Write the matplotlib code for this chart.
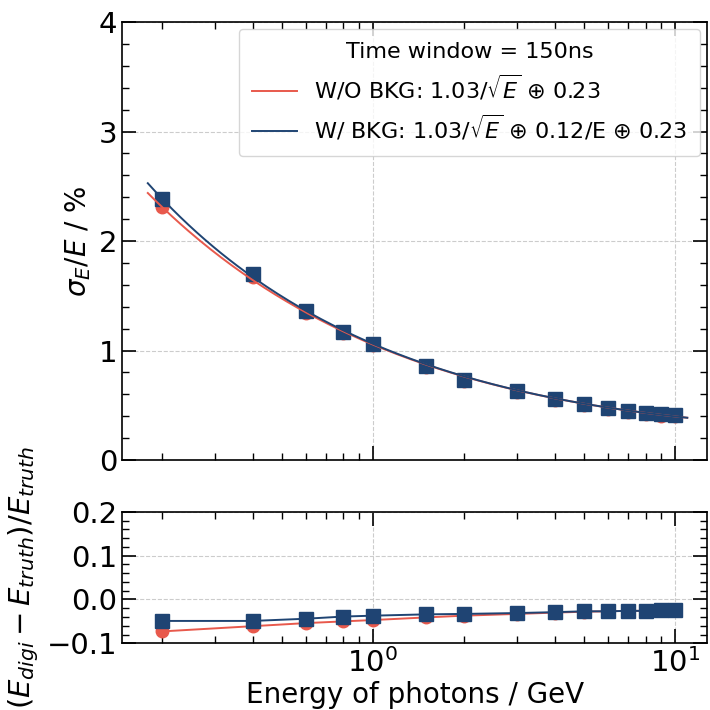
import numpy as np
import matplotlib
matplotlib.use("Agg")
import matplotlib.pyplot as plt
from matplotlib.ticker import MultipleLocator, LogLocator, NullFormatter

# Data
energy = [0.2, 0.4, 0.6, 0.8, 1.0, 1.5, 2, 3, 4, 5, 6, 7, 8, 9, 10]
res_nobkg = [2.31, 1.67, 1.34, 1.16, 1.05, 0.85, 0.72, 0.62, 0.55, 0.50, 0.47, 0.44, 0.42, 0.40, 0.40]
res_bkg = [2.38, 1.70, 1.36, 1.17, 1.06, 0.86, 0.73, 0.63, 0.56, 0.51, 0.48, 0.45, 0.43, 0.42, 0.41]
lin_nobkg = [-0.073, -0.061, -0.054, -0.050, -0.047, -0.041, -0.037, -0.033, -0.030, -0.028, -0.027, -0.026, -0.026, -0.025, -0.025]
lin_bkg = [-0.049, -0.049, -0.044, -0.039, -0.037, -0.034, -0.033, -0.031, -0.029, -0.027, -0.027, -0.026, -0.026, -0.025, -0.025]

# Fit parameters (from legend)
a_stoch = 1.03
b_noise = 0.12
c_const = 0.23
fit_range = (0.18, 11.0)

red = "#e8594c"
blue = "#1f4473"

fig = plt.figure(figsize=(7.1, 7.1), dpi=100)
ax1 = fig.add_axes([0.172, 0.352, 0.824, 0.617])
ax2 = fig.add_axes([0.172, 0.094, 0.824, 0.185])

xf = np.logspace(np.log10(fit_range[0]), np.log10(fit_range[1]), 200)
f_nobkg = np.sqrt((a_stoch / np.sqrt(xf))**2 + c_const**2)
f_bkg = np.sqrt((a_stoch / np.sqrt(xf))**2 + (b_noise / xf)**2 + c_const**2)

ax1.plot(energy, res_nobkg, 'o', color=red, ms=9, zorder=3)
ax1.plot(energy, res_bkg, 's', color=blue, ms=10, zorder=4)
ax1.plot(xf, f_nobkg, '-', color=red, lw=1.4, zorder=5,
         label=r"W/O BKG: 1.03/$\sqrt{E}$ $\oplus$ 0.23")
ax1.plot(xf, f_bkg, '-', color=blue, lw=1.4, zorder=5,
         label=r"W/ BKG: 1.03/$\sqrt{E}$ $\oplus$ 0.12/E $\oplus$ 0.23")

ax2.plot(energy, lin_nobkg, 'o-', color=red, ms=9, lw=1.4, zorder=3)
ax2.plot(energy, lin_bkg, 's-', color=blue, ms=10, lw=1.4, zorder=4)

for ax in (ax1, ax2):
    ax.set_xscale('log')
    ax.set_xlim(0.148, 12.8)
    ax.xaxis.set_major_locator(LogLocator(base=10, numticks=10))
    ax.xaxis.set_minor_locator(LogLocator(base=10, subs=np.arange(2, 10), numticks=20))
    ax.xaxis.set_minor_formatter(NullFormatter())
    ax.tick_params(which='both', direction='in', top=True, right=True, labelsize=21)
    ax.tick_params(which='major', length=10, width=1.2)
    ax.tick_params(which='minor', length=5, width=1.0)
    ax.grid(True, which='major', linestyle='--', color='#cccccc', lw=0.8)
    for s in ax.spines.values():
        s.set_linewidth(1.2)

ax1.set_ylim(0, 4)
ax1.yaxis.set_major_locator(MultipleLocator(1))
ax1.yaxis.set_minor_locator(MultipleLocator(0.2))
ax1.tick_params(axis='x', labelbottom=False)
ax1.set_ylabel(r"$\sigma_E/E$ / %", fontsize=20)

ax2.set_ylim(-0.1, 0.2)
ax2.yaxis.set_major_locator(MultipleLocator(0.1))
ax2.yaxis.set_minor_locator(MultipleLocator(0.02))
ax2.set_ylabel(r"$(E_{digi}-E_{truth})/E_{truth}$", fontsize=21)
ax2.set_xlabel("Energy of photons / GeV", fontsize=20, labelpad=2)

leg = ax1.legend(title="Time window = 150ns", loc='upper right', fontsize=16,
                 title_fontsize=16, framealpha=0.8, borderpad=0.6,
                 borderaxespad=0.3)

fig.savefig("out.png", dpi=100)
